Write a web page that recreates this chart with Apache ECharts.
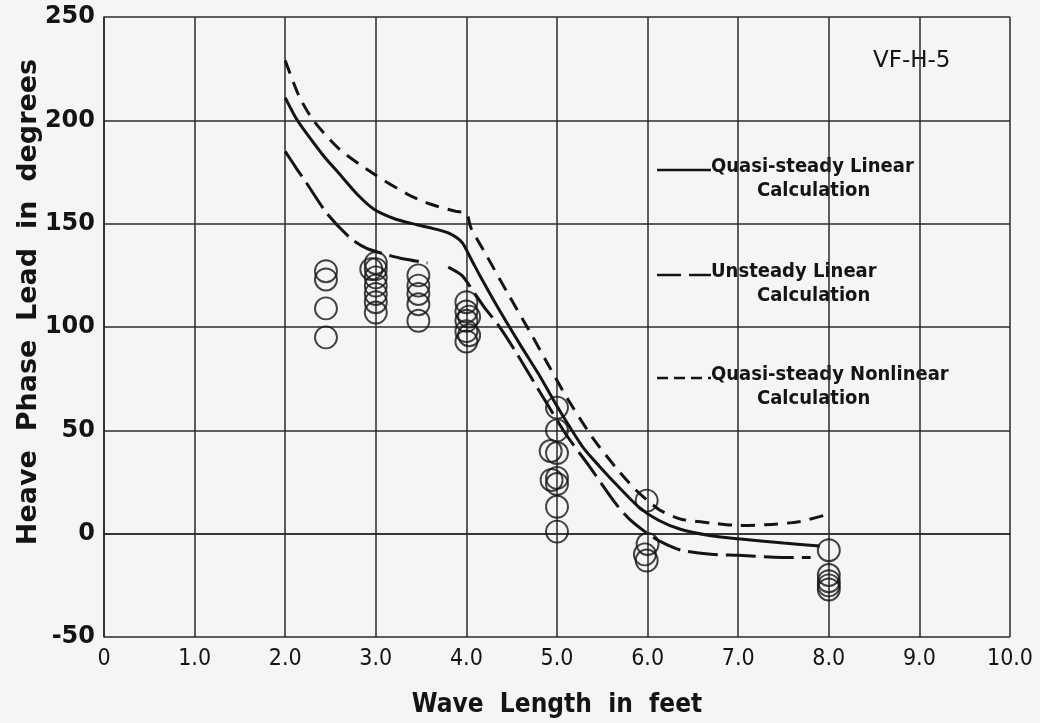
<!DOCTYPE html>
<html>
<head>
<meta charset="utf-8">
<script src="https://cdn.jsdelivr.net/npm/echarts@6/dist/echarts.min.js"></script>
<style>
  html, body { margin: 0; padding: 0; background: #f5f5f4; }
  #chart { width: 1040px; height: 723px; }
</style>
</head>
<body>
<div id="chart"></div>
<script>
// tick labels
const xTickLabels = ['0', '1.0', '2.0', '3.0', '4.0', '5.0', '6.0', '7.0', '8.0', '9.0', '10.0'];
const yTickLabels = ['-50', '0', '50', '100', '150', '200', '250'];

// Quasi-steady linear calculation (solid)
const quasiLinear = [
  [2.0, 211], [2.12, 201], [2.23, 194], [2.42, 183], [2.6, 174], [2.8, 164],
  [2.98, 157], [3.2, 152.5], [3.4, 150], [3.6, 148], [3.8, 145.5], [3.95, 141],
  [4.05, 133], [4.16, 124], [4.38, 107], [4.6, 91], [4.8, 77], [4.97, 64],
  [5.15, 51], [5.3, 41], [5.46, 33], [5.65, 24], [5.9, 13], [6.12, 6.5],
  [6.37, 2], [6.7, -1], [7.0, -2.5], [7.5, -4.5], [7.9, -6]
];

// Unsteady linear calculation (long dash) - broken near 3.7
const unsteadyLinear = [
  [2.0, 185], [2.12, 177], [2.23, 170], [2.46, 155], [2.72, 143], [2.9, 138],
  [3.08, 135.5], [3.3, 133], [3.57, 131], [3.7, null],
  [3.8, 129], [3.95, 125], [4.05, 119], [4.19, 110], [4.35, 101], [4.53, 89],
  [4.86, 65], [5.1, 48], [5.35, 33], [5.64, 15], [5.8, 7], [5.97, 1],
  [6.15, -4], [6.37, -8], [6.7, -10], [7.0, -10.5], [7.48, -11.5], [7.8, -11.5]
];

// Quasi-steady nonlinear calculation (short dash)
const quasiNonlinear = [
  [2.0, 229], [2.15, 212], [2.31, 200], [2.6, 186], [2.98, 174], [3.36, 164],
  [3.6, 159.5], [3.88, 156], [4.0, 155], [4.05, 148], [4.23, 134], [4.46, 116],
  [4.71, 97], [4.9, 82], [5.12, 65], [5.4, 46], [5.65, 32], [5.85, 22],
  [6.0, 16], [6.15, 11], [6.37, 7], [6.74, 5], [7.0, 4], [7.3, 4.3],
  [7.67, 5.8], [8.0, 9.5]
];

// measured points (circles)
const measured = [
  [2.45, 127], [2.45, 123], [2.45, 109], [2.45, 95],
  [3.0, 131], [3.0, 128], [3.0, 124], [3.0, 120], [3.0, 116], [3.0, 112], [3.0, 107], [2.95, 128],
  [3.47, 125], [3.47, 120], [3.47, 116], [3.47, 111], [3.47, 103],
  [4.0, 112], [4.0, 107.5], [4.0, 103], [4.0, 98], [4.0, 93], [4.03, 105], [4.03, 96],
  [5.0, 61], [5.0, 50], [5.0, 39], [5.0, 27], [5.0, 24], [5.0, 13], [5.0, 1], [4.93, 40], [4.94, 26],
  [5.99, 16], [6.0, -5], [5.97, -10], [5.99, -13],
  [8.0, -8], [8.0, -20], [8.0, -23], [8.0, -25], [8.0, -27]
];

const ink = '#141414';
const gridInk = '#2a2a2a';
const condensed = '"DejaVu Sans Condensed", "Liberation Sans Narrow", "DejaVu Sans", sans-serif';

const chart = echarts.init(document.getElementById('chart'));

// legend drawn by hand (line sample + two-line text)
function legendItem(y, dash, line1) {
  return [
    {
      type: 'line',
      shape: { x1: 657, y1: y, x2: 711, y2: y },
      style: { stroke: ink, lineWidth: 2.5, lineDash: dash }
    },
    {
      type: 'text', left: 711, top: y - 13,
      style: { text: line1, fill: ink, font: 'bold 20px ' + condensed }
    },
    {
      type: 'text', left: 757, top: y + 11,
      style: { text: 'Calculation', fill: ink, font: 'bold 20px ' + condensed }
    }
  ];
}

const option = {
  backgroundColor: '#f5f5f4',
  animation: false,
  grid: { left: 104, right: 30, top: 17, bottom: 85, show: false },
  xAxis: {
    type: 'value',
    min: 0, max: 10, interval: 1,
    name: 'Wave  Length  in  feet',
    nameLocation: 'middle',
    nameGap: 55,
    nameTextStyle: { color: ink, fontSize: 26, fontWeight: 'bold', fontFamily: condensed },
    axisLine: { show: true, lineStyle: { color: gridInk, width: 1.6 } },
    axisTick: { show: false },
    axisLabel: {
      color: ink, fontSize: 23, fontFamily: condensed, margin: 11,
      formatter: (v) => xTickLabels[Math.round(v)]
    },
    splitLine: { show: true, lineStyle: { color: gridInk, width: 1.5 } }
  },
  yAxis: {
    type: 'value',
    min: -50, max: 250, interval: 50,
    name: 'Heave  Phase  Lead  in  degrees',
    nameLocation: 'middle',
    nameGap: 62,
    nameMoveOverlap: false,
    nameTextStyle: {
      color: ink, fontSize: 27, fontWeight: 'bold', fontFamily: 'DejaVu Sans, sans-serif',
      padding: [0, 0, 0, 50]
    },
    axisLine: { show: true, lineStyle: { color: gridInk, width: 1.6 } },
    axisTick: { show: false },
    axisLabel: {
      color: ink, fontSize: 24, fontWeight: 'bold', fontFamily: 'DejaVu Sans, sans-serif', margin: 9,
      formatter: (v) => yTickLabels[Math.round((v + 50) / 50)]
    },
    splitLine: { show: true, lineStyle: { color: gridInk, width: 1.5 } }
  },
  series: [
    {
      name: 'Quasi-steady Linear Calculation',
      type: 'line',
      data: quasiLinear,
      showSymbol: false,
      smooth: 0.25,
      lineStyle: { color: ink, width: 3 },
      z: 3
    },
    {
      name: 'Unsteady Linear Calculation',
      type: 'line',
      data: unsteadyLinear,
      showSymbol: false,
      connectNulls: false,
      smooth: 0.25,
      lineStyle: { color: ink, width: 3, type: [30, 8] },
      z: 3
    },
    {
      name: 'Quasi-steady Nonlinear Calculation',
      type: 'line',
      data: quasiNonlinear,
      showSymbol: false,
      smooth: 0.25,
      lineStyle: { color: ink, width: 3, type: [14, 9] },
      z: 3
    },
    {
      name: 'Measured',
      type: 'scatter',
      data: measured,
      symbol: 'circle',
      symbolSize: 22,
      itemStyle: { color: 'rgba(0,0,0,0)', borderColor: ink, borderWidth: 1.9 },
      z: 4
    }
  ],
  graphic: [
    {
      type: 'text', left: 873, top: 50,
      style: { text: 'VF-H-5', fill: ink, font: '23px "DejaVu Sans", sans-serif' }
    },
    ...legendItem(170, null, 'Quasi-steady Linear'),
    ...legendItem(275, [24, 8], 'Unsteady Linear'),
    ...legendItem(378, [11, 6], 'Quasi-steady Nonlinear')
  ]
};

chart.setOption(option);
</script>
</body>
</html>
